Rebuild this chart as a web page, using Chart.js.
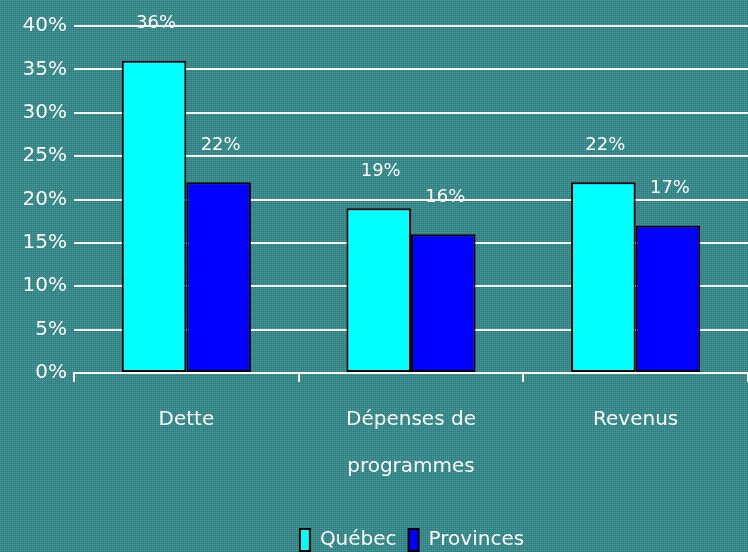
<!DOCTYPE html>
<html>
<head>
<meta charset="utf-8">
<script src="https://cdn.jsdelivr.net/npm/chart.js@4/dist/chart.umd.min.js"></script>
<style>
  html, body { margin: 0; padding: 0; overflow: hidden; background: #3f8a8b; }
  #wrap { width: 748px; height: 552px; overflow: hidden; }
  #wrap canvas { display: block; }
</style>
</head>
<body>
<div id="wrap"><canvas id="chart" width="748" height="561"></canvas></div>
<script>
var categories = ["Dette", ["Dépenses de", "programmes"], "Revenus"];
var quebec = [36, 19, 22];
var provinces = [22, 16, 17];
var yTicks = [0, 5, 10, 15, 20, 25, 30, 35, 40];

var font = "'DejaVu Sans'";

// dithered teal backdrop
var bgPlugin = {
   id: "bg",
   beforeDraw: function (chart) {
      var tile = document.createElement("canvas");
      tile.width = 2;
      tile.height = 2;
      var t = tile.getContext("2d");
      t.fillStyle = "#2a8586";
      t.fillRect(0, 0, 2, 2);
      t.fillStyle = "#6a9498";
      t.fillRect(0, 0, 1, 1);
      var ctx = chart.ctx;
      ctx.save();
      ctx.fillStyle = ctx.createPattern(tile, "repeat");
      ctx.fillRect(0, 0, chart.width, chart.height);
      ctx.restore();
   },
};

// percent labels sitting above each bar
var valueLabels = {
   id: "valueLabels",
   afterDatasetsDraw: function (chart) {
      var ctx = chart.ctx;
      ctx.save();
      ctx.fillStyle = "#ffffff";
      ctx.font = "18px " + font;
      ctx.textAlign = "center";
      ctx.textBaseline = "middle";
      chart.data.datasets.forEach(function (ds, i) {
         chart.getDatasetMeta(i).data.forEach(function (bar, j) {
            ctx.fillText(ds.data[j] + "%", bar.x + 2, bar.y - 37);
         });
      });
      ctx.restore();
   },
};

// legend sits a bit right of centre
var legendShift = {
   id: "legendShift",
   afterLayout: function (chart) {
      chart.legend.left += 76;
   },
};

var ctx = document.getElementById("chart").getContext("2d");
var chart = new Chart(ctx, {
   type: "bar",
   data: {
      labels: categories,
      datasets: [
         {
            label: "Québec",
            data: quebec,
            backgroundColor: "#00ffff",
            borderColor: "#000000",
            borderWidth: 2,
            borderSkipped: false,
         },
         {
            label: "Provinces",
            data: provinces,
            backgroundColor: "#0000ff",
            borderColor: "#000000",
            borderWidth: 2,
            borderSkipped: false,
         },
      ],
   },
   plugins: [bgPlugin, valueLabels, legendShift],
   options: {
      responsive: false,
      animation: false,
      layout: { padding: { top: 26, right: 0, left: 0, bottom: 0 } },
      datasets: { bar: { barPercentage: 1, categoryPercentage: 0.575 } },
      plugins: {
         tooltip: { enabled: false },
         legend: {
            position: "bottom",
            labels: {
               color: "#ffffff",
               font: { family: font, size: 20 },
               boxWidth: 10,
               boxHeight: 22,
               padding: 12,
            },
         },
      },
      scales: {
         x: {
            afterFit: function (s) {
               s.height = 144;
            },
            grid: {
               drawOnChartArea: false,
               drawTicks: true,
               tickLength: 9,
               color: "#ffffff",
               lineWidth: 2,
            },
            border: { display: true, color: "#ffffff", width: 2 },
            ticks: {
               color: "#ffffff",
               font: { family: font, size: 20, lineHeight: 2.35 },
               padding: 14,
               maxRotation: 0,
            },
         },
         y: {
            min: 0,
            max: 40,
            afterFit: function (s) {
               s.width = 74;
            },
            afterBuildTicks: function (s) {
               s.ticks = yTicks.map(function (v) {
                  return { value: v };
               });
            },
            grid: {
               color: "#ffffff",
               lineWidth: 2,
               drawTicks: false,
            },
            border: { display: false },
            ticks: {
               color: "#ffffff",
               font: { family: font, size: 20 },
               padding: 7,
               callback: function (v) {
                  return v + "%";
               },
            },
         },
      },
   },
});
</script>
</body>
</html>
